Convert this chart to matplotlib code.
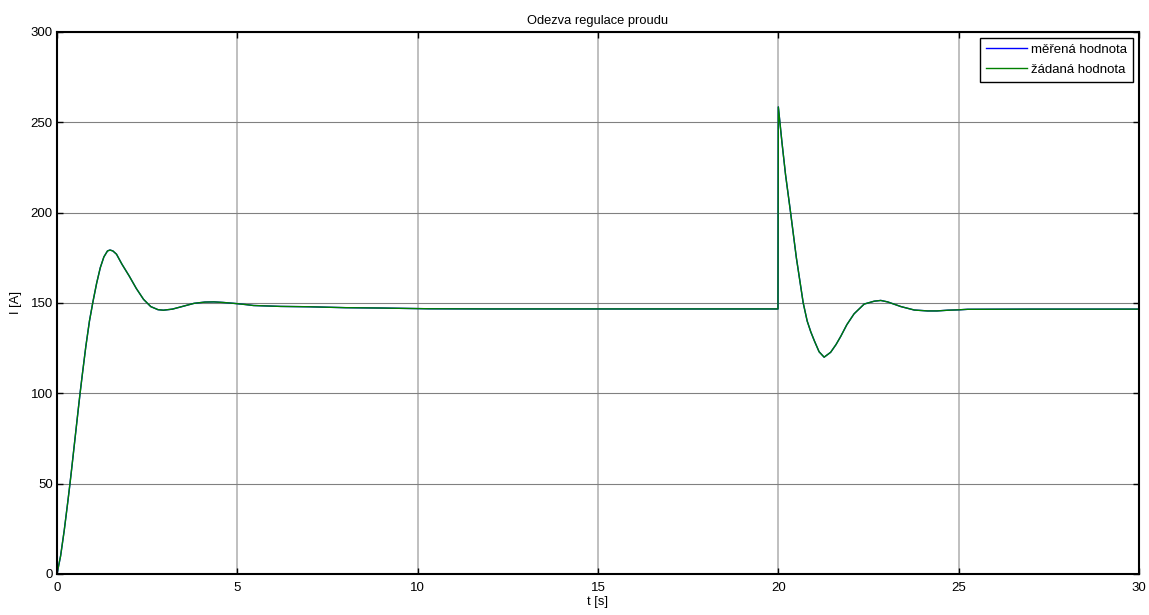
import matplotlib
matplotlib.use("Agg")
import matplotlib.pyplot as plt

plt.rcParams['font.family'] = ['Liberation Sans', 'DejaVu Sans']

# odezva regulace proudu
t = [0, 0.1, 0.2, 0.3, 0.36, 0.4, 0.5, 0.6, 0.64, 0.7, 0.8, 0.9, 1.0, 1.1,
     1.2, 1.3, 1.4, 1.47, 1.55, 1.65, 1.8, 2.0, 2.2, 2.4, 2.6, 2.8, 2.95,
     3.2, 3.5, 3.8, 4.1, 4.35, 4.6, 4.9, 5.2, 5.45, 6.2, 7.0, 8.0, 9.0,
     10.3, 12.0, 15.0, 19.99,
     20.0, 20.1, 20.2, 20.34, 20.5, 20.69, 20.8, 20.9, 21.0, 21.13, 21.27,
     21.45, 21.6, 21.73, 21.9, 22.1, 22.38, 22.66, 22.84, 23.03, 23.4,
     23.77, 24.14, 24.4, 24.7, 25.0, 25.25, 27.0, 30.0]
zadana = [0, 10, 24, 40, 50, 57, 75, 93, 100, 110, 126, 140, 151, 161,
          169.5, 175.5, 178.8, 179.3, 178.8, 177, 171.5, 165, 158, 152, 148,
          146.3, 146, 146.6, 148.2, 149.8, 150.5, 150.6, 150.3, 149.8, 149.2,
          148.6, 148.1, 147.9, 147.4, 147.2, 146.8, 146.7, 146.7, 146.7,
          258.5, 239, 221, 200, 175, 150, 140, 134, 129, 123, 120,
          122.7, 127, 131.5, 138, 144, 149.4, 151, 151.4, 150.6, 148,
          146.1, 145.6, 145.6, 146, 146.2, 146.5, 146.6, 146.6]
merena = list(zadana)

fig, ax = plt.subplots(figsize=(11.49, 6.15), dpi=100)
fig.subplots_adjust(left=0.0496, right=0.9913, top=0.948, bottom=0.0667)

ax.plot(t, merena, color='#0000ff', lw=1.0, label='měřená hodnota')
ax.plot(t, zadana, color='#008000', lw=1.0, label='žádaná hodnota')

ax.set_xlim(0, 30)
ax.set_ylim(0, 300)
ax.set_xticks(range(0, 31, 5))
ax.set_yticks(range(0, 301, 50))
ax.xaxis.grid(True, color='#b4b4b4', lw=1.2)
ax.yaxis.grid(True, color='#808080', lw=0.8)
ax.set_axisbelow(True)
ax.tick_params(direction='in', length=4, width=1, top=True, right=True,
               labelsize=9.5)
ax.tick_params(axis='x', pad=6)
ax.tick_params(axis='y', pad=3)
for s in ax.spines.values():
    s.set_linewidth(1.5)

ax.set_title('Odezva regulace proudu', fontsize=9.3, pad=6)
ax.set_xlabel('t [s]', fontsize=9.3, labelpad=1)
ax.set_ylabel('I [A]', fontsize=9.3, labelpad=6)

leg = ax.legend(loc='upper right', fontsize=9.5, fancybox=False,
                framealpha=1, edgecolor='black', borderaxespad=0.45,
                handlelength=3.1, handletextpad=0.35, borderpad=0.45,
                labelspacing=0.55)
leg.get_frame().set_linewidth(1.0)

fig.savefig('out.png', dpi=100)
